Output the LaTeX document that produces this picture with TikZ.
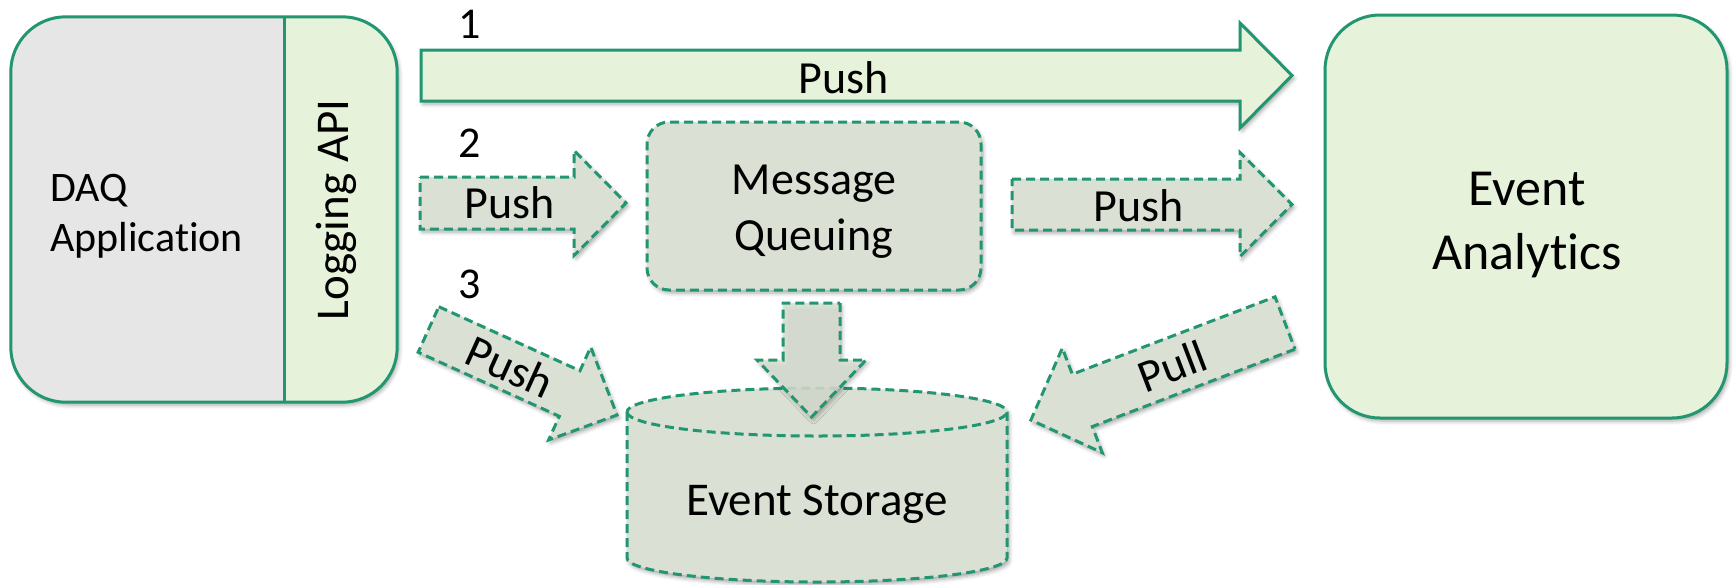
\documentclass[tikz,border=0pt]{standalone}
\usepackage{fontspec}
\setmainfont{Carlito}[Ligatures=NoCommon]
\usepackage{tikz}
\usetikzlibrary{shadows.blur}
\definecolor{edgegreen}{RGB}{34,150,112}
\definecolor{palegreen}{RGB}{231,242,218}
\definecolor{appgrey}{RGB}{230,230,230}
\definecolor{dashfill}{RGB}{218,224,212}
\tikzstyle{soft shadow}=[blur shadow={shadow xshift=2pt, shadow yshift=-3pt, shadow blur radius=4pt, shadow opacity=35}]
\tikzstyle{solid box}=[draw=edgegreen, line width=3pt, fill=palegreen]
\tikzstyle{dash box}=[draw=edgegreen, line width=3pt, dash pattern=on 9pt off 5pt, fill=dashfill]
\tikzstyle{lbl}=[font=\fontsize{46}{56}\selectfont, inner sep=0pt]
\tikzset{
  pics/block arrow/.style args={#1/#2/#3/#4}{code={
    \path[pic actions, soft shadow] (0,-#2) -- ({#1-#4},-#2) -- ({#1-#4},-#3) -- (#1,0)
      -- ({#1-#4},#3) -- ({#1-#4},#2) -- (0,#2) -- cycle;
  }}
}

\begin{document}
\begin{tikzpicture}[x=1pt, y=-1pt]
  \useasboundingbox (0,0) rectangle (1736,584);
  % application with its logging API
  \node[fill=appgrey, rounded corners=55pt, minimum width=386pt, minimum height=385pt, soft shadow] (daq) at (204,209.5) {};
  \node[minimum width=112pt, minimum height=385pt, inner sep=0pt] (api) at (341,209.5) {};
  \begin{scope}
    \clip[rounded corners=55pt] (daq.south west) rectangle (daq.north east);
    \fill[palegreen] (api.north west) rectangle (api.south east);
  \end{scope}
  \draw[edgegreen, line width=3pt, rounded corners=55pt] (daq.south west) rectangle (daq.north east);
  \draw[edgegreen, line width=3pt] (api.north west) -- (api.south west);
  \node[lbl, font=\fontsize{42}{50}\selectfont, anchor=west, align=left] (daqtext) at (50,216) {DAQ\\Application};
  \node[lbl, font=\fontsize{47}{56}\selectfont, rotate=90, anchor=base] (apitext) at (348,210) {Logging API};

  % analytics
  \node[solid box, soft shadow, rounded corners=55pt, minimum width=402pt, minimum height=403pt] (ea) at (1526,216.5) {};
  \node[lbl, font=\fontsize{52}{64}\selectfont, align=center] (eatext) at (1527,225) {Event\\Analytics};

  % queue
  \node[dash box, soft shadow, rounded corners=22pt, minimum width=334pt, minimum height=168pt] (mq) at (814,206) {};
  \node[lbl, align=center] (mqtext) at (814,212) {Message\\Queuing};

  % storage
  \path[dash box, soft shadow] (627,412) -- (627,558)
    arc[start angle=180, end angle=360, x radius=190pt, y radius=24pt] -- (1007,412)
    arc[start angle=0, end angle=180, x radius=190pt, y radius=24pt] -- cycle;
  \draw[dash box, fill=none] (627,412) arc[start angle=180, end angle=360, x radius=190pt, y radius=24pt];
  \node[lbl, font=\fontsize{47}{56}\selectfont, anchor=base] (store) at (817,515) {Event Storage};

  % the three ways
  \node[lbl, font=\fontsize{44}{52}\selectfont, anchor=base] (n1) at (470,38) {1};
  \node[lbl, font=\fontsize{44}{52}\selectfont, anchor=base] (n2) at (470,157) {2};
  \node[lbl, font=\fontsize{44}{52}\selectfont, anchor=base] (n3) at (470,298) {3};

  \pic[solid box] (push1) at (421,75.5) {block arrow=871/25.5/52.5/52};
  \node[lbl, anchor=base] (push1text) at (844,93) {Push};

  \pic[dash box] (push2) at (420,203) {block arrow=206/26/52.5/52};
  \node[lbl, anchor=base] (push2text) at (510,218) {Push};
  \pic[dash box] (push2b) at (1012,204.5) {block arrow=280/25.5/52/52};
  \node[lbl, anchor=base] (push2btext) at (1139,221) {Push};

  \pic[dash box, rotate=-24.4] (push3) at (428.5,329.5) {block arrow=207/25/51/52};
  \node[lbl, rotate=-24.4] (push3text) at (510.5,366.5) {Push};

  \pic[dash box, fill opacity=0.85, rotate=-90] (down) at (811.5,303) {block arrow=114/28.5/54.5/57};

  \pic[dash box, rotate=200.9] (pull) at (1285,323) {block arrow=272/28/56/55};
  \node[lbl, rotate=20.9] (pulltext) at (1172,366) {Pull};
\end{tikzpicture}
\end{document}
